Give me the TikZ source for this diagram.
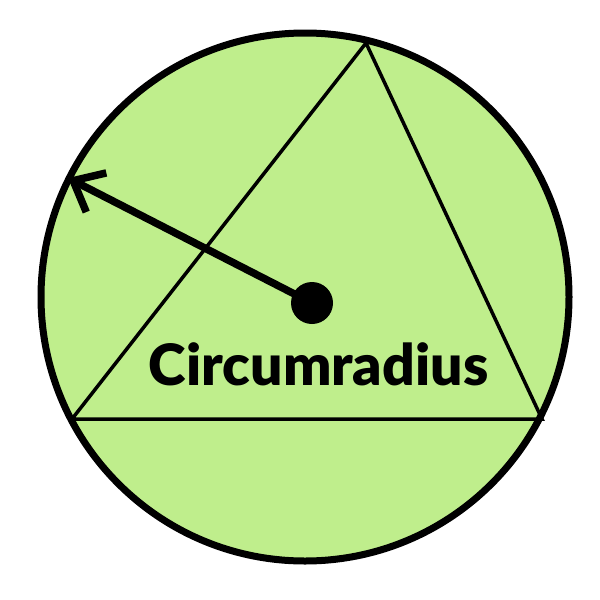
\documentclass[tikz,border=0pt]{standalone}
\usepackage{fontspec}
\setmainfont{Lato}
\newfontfamily\lblfont{Lato Black}
\usetikzlibrary{arrows.meta}
\definecolor{circfill}{HTML}{BFEE8C}
\begin{document}
\begin{tikzpicture}[x=1pt,y=-1pt,
  rim/.style={draw=black,line width=7pt,fill=circfill},
  tri/.style={draw=black,line width=3.5pt,line join=miter},
  radline/.style={draw=black,line width=7.5pt,-{Straight Barb[length=26pt,width=44pt,line width=7.5pt]}},
  lbl/.style={font=\lblfont\fontsize{57}{62}\selectfont,inner sep=0pt}]
\useasboundingbox (0,0) rectangle (600,600);
\coordinate (O) at (305,297);
\draw[rim] (O) circle[radius=264];
\coordinate (A) at (366,43);
\coordinate (B) at (72,419);
\coordinate (C) at (542,419);
\draw[tri] (A) -- (B) -- (C) -- cycle;
\node[circle,fill=black,minimum size=42pt,inner sep=0pt] (dot) at (312,303) {};
\coordinate (tip) at (68,178);
\draw[radline] (dot.center) -- (tip);
\node[lbl,anchor=base] (label) at (318.5,385) {Circumradius};
\end{tikzpicture}
\end{document}
